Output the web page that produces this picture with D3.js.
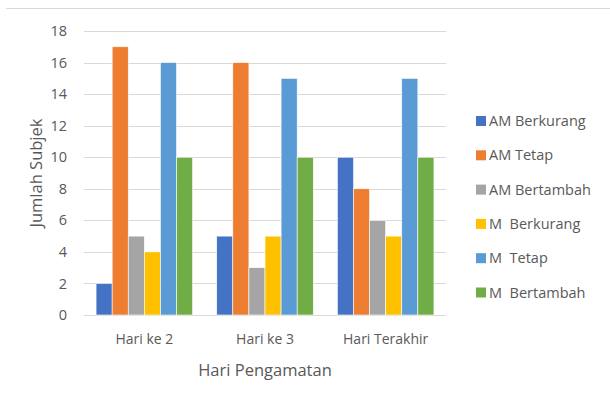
<!DOCTYPE html>
<html>
<head>
<meta charset="utf-8">
<script src="https://cdn.jsdelivr.net/npm/d3@7"></script>
<style>
	body { margin: 0; background: #fff; }
	text { font-family: "Open Sans", "Noto Sans", sans-serif; fill: #595959; }
</style>
</head>
<body>
<div id="chart"></div>
<script>
(function () {
	// data
	var categories = ['Hari ke 2', 'Hari ke 3', 'Hari Terakhir'];
	var seriesNames = ['AM Berkurang', 'AM Tetap', 'AM Bertambah', 'M  Berkurang', 'M  Tetap', 'M  Bertambah'];
	var seriesColors = ['#4472c4', '#ed7d31', '#a5a5a5', '#ffc000', '#5b9bd5', '#70ad47'];
	var seriesValues = [
		[2, 5, 10],
		[17, 16, 8],
		[5, 3, 6],
		[4, 5, 5],
		[16, 15, 15],
		[10, 10, 10]
	];
	var yTicks = [0, 2, 4, 6, 8, 10, 12, 14, 16, 18];

	var width = 610, height = 401;
	var plot = { left: 84, right: 446, top: 31, bottom: 315 };

	var svg = d3.select('#chart').append('svg')
		.attr('width', width).attr('height', height);

	// chart frame top edge
	svg.append('line')
		.attr('x1', 6).attr('x2', width).attr('y1', 8.5).attr('y2', 8.5)
		.attr('stroke', '#d9d9d9').attr('stroke-width', 1);

	var x0 = d3.scaleBand()
		.domain(categories)
		.range([plot.left, plot.right])
		.paddingInner(0.2).paddingOuter(0.1);
	var x1 = d3.scaleBand()
		.domain(d3.range(seriesNames.length))
		.range([0, x0.bandwidth()]);
	var y = d3.scaleLinear()
		.domain([0, 18])
		.range([plot.bottom, plot.top]);

	// gridlines
	svg.append('g').selectAll('line')
		.data(yTicks)
		.join('line')
		.attr('x1', plot.left).attr('x2', plot.right)
		.attr('y1', d => Math.round(y(d)) + 0.5).attr('y2', d => Math.round(y(d)) + 0.5)
		.attr('stroke', '#d9d9d9').attr('stroke-width', 1);

	// y tick labels
	svg.append('g').selectAll('text')
		.data(yTicks)
		.join('text')
		.attr('x', 67).attr('y', d => y(d))
		.attr('dy', '0.35em')
		.attr('text-anchor', 'end')
		.attr('font-size', 14.5)
		.text(d => d);

	// bars
	var groups = svg.append('g').selectAll('g')
		.data(categories)
		.join('g')
		.attr('transform', d => 'translate(' + x0(d) + ',0)');

	groups.selectAll('rect')
		.data((c, ci) => seriesValues.map((vals, si) => ({ si: si, v: vals[ci] })))
		.join('rect')
		.attr('x', d => x1(d.si))
		.attr('width', x1.bandwidth())
		.attr('y', d => y(d.v))
		.attr('height', d => y(0) - y(d.v))
		.attr('fill', d => seriesColors[d.si])
		.attr('stroke', '#ffffff').attr('stroke-width', 0.6);

	// category labels
	svg.append('g').selectAll('text')
		.data(categories)
		.join('text')
		.attr('x', d => x0(d) + x0.bandwidth() / 2)
		.attr('y', 344)
		.attr('text-anchor', 'middle')
		.attr('font-size', 14)
		.text(d => d);

	// axis titles
	svg.append('text')
		.attr('x', (plot.left + plot.right) / 2).attr('y', 376)
		.attr('text-anchor', 'middle')
		.attr('font-size', 16.5)
		.text('Hari Pengamatan');

	svg.append('text')
		.attr('transform', 'translate(42,' + (plot.top + plot.bottom) / 2 + ') rotate(-90)')
		.attr('text-anchor', 'middle')
		.attr('font-size', 16.5)
		.text('Jumlah Subjek');

	// legend
	var legend = svg.append('g').selectAll('g')
		.data(seriesNames)
		.join('g')
		.attr('transform', (d, i) => 'translate(476,' + (121 + i * 34.3) + ')');

	legend.append('rect')
		.attr('x', 0).attr('y', -5)
		.attr('width', 10).attr('height', 10)
		.attr('fill', (d, i) => seriesColors[i]);

	legend.append('text')
		.attr('x', 13).attr('y', 0)
		.attr('dy', '0.35em')
		.attr('font-size', 14.5)
		.attr('xml:space', 'preserve')
		.style('white-space', 'pre')
		.text(d => d);
})();
</script>
</body>
</html>
